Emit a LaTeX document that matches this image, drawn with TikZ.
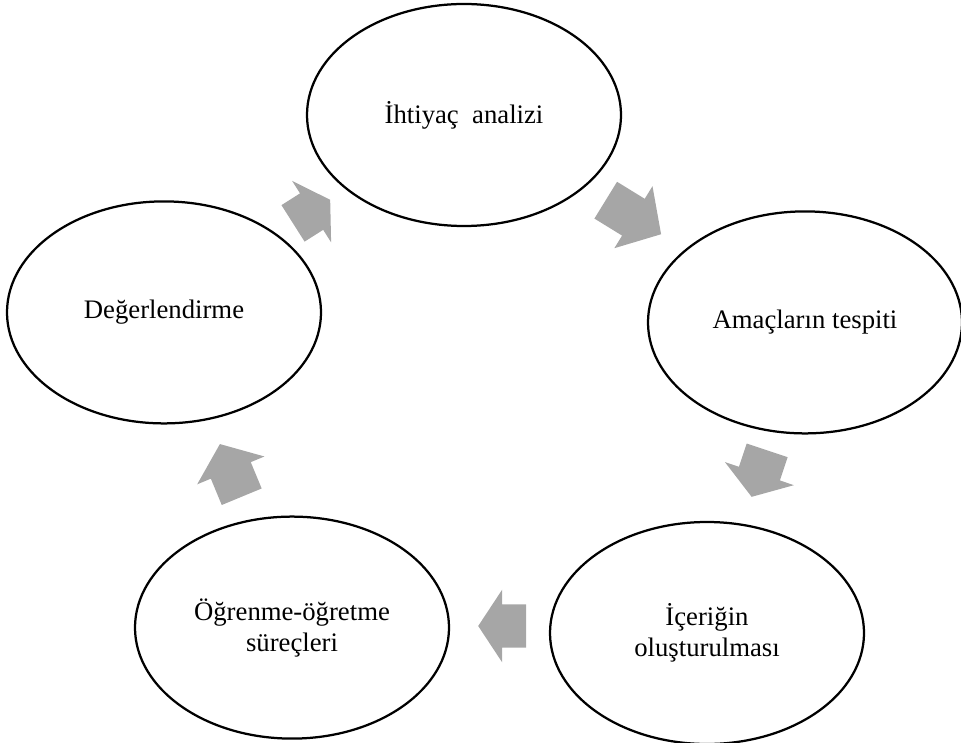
\documentclass[tikz,border=0pt]{standalone}
\usepackage{fontspec}
\setmainfont{Liberation Serif}
\usetikzlibrary{shapes.geometric}
\definecolor{arrowgray}{RGB}{166,166,166}
% block arrow: centre, angle, length
\newcommand{\cyclearrow}[3]{%
   \fill[arrowgray,shift={#1},rotate=#2] (-#3/2,-0.54) -- (0,-0.54) -- (0,-0.91)
      -- (#3/2,0) -- (0,0.91) -- (0,0.54) -- (-#3/2,0.54) -- cycle;}

\begin{document}
\begin{tikzpicture}[stage/.style={ellipse,draw=black,line width=1.6pt,fill=white,
      minimum width=7.85cm,minimum height=5.55cm,align=center,
      font=\fontsize{19}{22}\selectfont}]
   \useasboundingbox (0,0) rectangle (24.025,18.55);
   \node[stage] (needs) at (11.6,15.675) {İhtiyaç~ analizi};
   \node[stage] (aims) at (20.125,10.49) {Amaçların tespiti};
   \node[stage] (content) at (17.675,2.725) {İçeriğin\\oluşturulması};
   \node[stage] (teaching) at (7.3,2.86) {Öğrenme-öğretme\\süreçleri};
   \node[stage] (evaluation) at (4.1,10.74) {Değerlendirme};
   \cyclearrow{(7.79,13.26)}{32.4}{1.1}
   \cyclearrow{(15.835,13.12)}{-31.6}{1.625}
   \cyclearrow{(18.985,6.71)}{-108.5}{1.225}
   \cyclearrow{(12.555,2.9)}{180}{1.2}
   \cyclearrow{(5.77,6.79)}{112.5}{1.425}
\end{tikzpicture}
\end{document}
